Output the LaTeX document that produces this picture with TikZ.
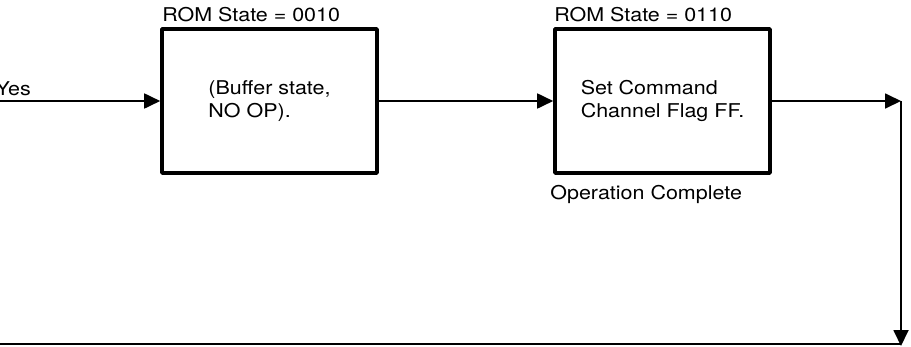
\documentclass[tikz,border=0pt]{standalone}
\usepackage{fontspec}
\setmainfont[FakeStretch=1.13]{TeX Gyre Heros}
\usepackage{tikz}
\usetikzlibrary{positioning}
\usetikzlibrary{arrows.meta}

\begin{document}
\begin{tikzpicture}[x=1pt, y=-1pt, line join=bevel,
    font=\fontsize{19}{22.5}\selectfont,
    statebox/.style={draw, line width=3.6pt, minimum width=215pt, minimum height=144pt, align=left, inner sep=0pt},
    romnote/.style={inner sep=0pt},
    flow/.style={line width=1.8pt, -{Triangle[length=16pt, width=15pt]}}]
  \useasboundingbox (0,0) rectangle (911,346);
  \node[statebox] (buffer) at (269.5,101) {(Buffer state,\\NO OP).};
  \node[statebox] (command) at (662.5,101) {Set Command\\Channel Flag FF.};
  \node[romnote, above right=5pt and 2pt of buffer.north west] (bufferrom) {ROM State = 0010};
  \node[romnote, above right=5pt and 1pt of command.north west] (commandrom) {ROM State = 0110};
  \node[romnote, below right=10pt and -3pt of command.south west] (done) {Operation Complete};
  % entry from the left, cut at the page edge
  \node[romnote, anchor=base east] (yes) at (31,95) {Yes};
  \coordinate (entry) at (0,101);
  \coordinate (corner) at (901,101);
  \coordinate (drop) at (901,346);
  \coordinate (exit) at (0,344);
  \draw[flow] (entry) -- (buffer);
  \draw[flow] (buffer) -- (command);
  \draw[flow] (command) -- (corner);
  \draw[flow] (corner) -- (drop);
  \draw[line width=1.8pt] (exit) -- (drop |- exit);
\end{tikzpicture}
\end{document}
